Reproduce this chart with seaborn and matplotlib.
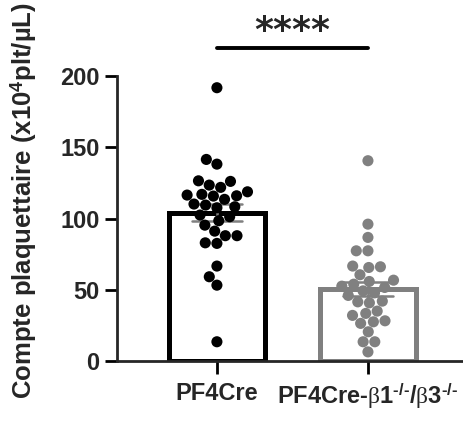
import numpy as np
import pandas as pd
import seaborn as sns
import matplotlib
matplotlib.use("Agg")
import matplotlib.pyplot as plt

groups = ["PF4Cre", "PF4Cre-β1-/-/β3-/-"]
tick_labels = ["PF4Cre",
               "PF4Cre-$\\mathrm{\\beta}$1$^{\\mathbf{\u2010/\u2010}}$/$\\mathrm{\\beta}$3$^{\\mathbf{\u2010/\u2010}}$"]
pf4cre = [191.8, 141.5, 138.2, 126.5, 123.5, 126.1, 121.9, 118.8, 115.8, 116.0,
          116.5, 117.0, 113.5, 110.2, 108.3, 109.5, 107.6, 102.5, 101.3, 98.5,
          95.4, 91.2, 88.0, 88.0, 82.6, 83.0, 66.7, 59.2, 53.3, 13.6]
ko = [140.6, 96.1, 86.8, 77.4, 77.4, 66.7, 66.2, 65.7, 60.6, 56.8,
      55.9, 54.0, 52.6, 51.7, 49.3, 47.9, 46.1, 42.1, 40.9, 41.6,
      35.1, 33.5, 32.1, 27.6, 28.3, 26.5, 20.6, 13.6, 13.6, 6.5]
colors = ["#000000", "#808080"]
ylabel = r"Compte plaquettaire (x10$^{\mathbf{4}}$plt/µL)"
yticks = [0, 50, 100, 150, 200]
sig_text = "****"

sns.set_style("ticks")
plt.rcParams["font.family"] = ["Liberation Sans", "DejaVu Sans"]
plt.rcParams["font.weight"] = "bold"
plt.rcParams["mathtext.fontset"] = "custom"
plt.rcParams["mathtext.rm"] = "Liberation Serif:normal"
plt.rcParams["mathtext.it"] = "Liberation Serif:italic"
plt.rcParams["mathtext.bf"] = "Liberation Sans:bold"

df = pd.DataFrame({
    "group": [groups[0]] * len(pf4cre) + [groups[1]] * len(ko),
    "value": pf4cre + ko,
})

fig = plt.figure(figsize=(4.64, 4.32), dpi=100)
ax = fig.add_axes([0.252, 0.164, 0.748, 0.66])

sns.barplot(data=df, x="group", y="value", hue="group", order=groups,
            hue_order=groups, palette=colors, fill=False, width=0.636,
            errorbar="se", capsize=0.33, linewidth=3.6,
            err_kws={"linewidth": 1.8}, legend=False, ax=ax, zorder=1)
for ln in ax.lines:
    xd = np.mean(ln.get_xdata())
    ln.set_color(colors[0] if xd < 0.5 else colors[1])
    ln.set_zorder(2)

sns.swarmplot(data=df, x="group", y="value", hue="group", order=groups,
              hue_order=groups, palette=colors, size=8, legend=False, ax=ax,
              zorder=3)

ax.set_xlim(-0.662, 1.636)
ax.set_ylim(0, 200)
ax.set_yticks(yticks)
ax.set_yticklabels([str(t) for t in yticks], fontsize=17, fontweight="bold")
ax.set_xticks([0, 1])
ax.set_xticklabels(tick_labels, fontsize=17, fontweight="bold")
ax.set_xlabel("")
ax.set_ylabel(ylabel, fontsize=18.5, fontweight="bold")
ax.yaxis.set_label_coords(-0.225, 0.565)
sns.despine(ax=ax)
for s in ["left", "bottom"]:
    ax.spines[s].set_linewidth(2)
ax.tick_params(axis="both", width=2, length=9, color="black")
ax.tick_params(axis="x", pad=6)

ax.plot([0, 1], [219.6, 219.6], color="black", lw=2.8, clip_on=False)
ax.text(0.5, 224.5, sig_text, ha="center", va="baseline", fontsize=26,
        fontweight="bold", family="DejaVu Sans", clip_on=False)

fig.savefig("out.png", dpi=100)
